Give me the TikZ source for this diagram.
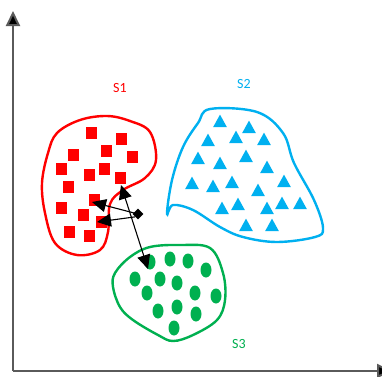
\documentclass[tikz,border=0pt]{standalone}
\usepackage{fontspec}
\setmainfont{Carlito}
\usetikzlibrary{arrows.meta,shapes.geometric}
\definecolor{cRed}{RGB}{255,0,0}
\definecolor{cBlue}{RGB}{0,176,240}
\definecolor{cGreen}{RGB}{0,176,80}
\definecolor{axisgray}{RGB}{90,90,90}
\tikzset{
  blob/.style={line width=2.4pt, smooth cycle, tension=0.6},
  sq/.style={fill=cRed, draw=none, minimum width=11pt, minimum height=12pt, inner sep=0pt},
  tri/.style={fill=cBlue, draw=none, regular polygon, regular polygon sides=3, minimum size=16pt, inner sep=0pt, yscale=1.05},
  dot/.style={fill=cGreen, draw=none, ellipse, minimum width=11pt, minimum height=15pt, inner sep=0pt},
  lbl/.style={font=\fontsize{14}{16}\selectfont},
  axis/.style={draw=axisgray, line width=2pt, -{Triangle[length=15pt,width=14pt,fill=black]}},
  link/.style={line width=1.1pt, -{Triangle[length=14pt,width=13pt]}},
  marker/.style={fill=black, diamond, minimum width=11pt, minimum height=11pt, inner sep=0pt}
}
\begin{document}
\begin{tikzpicture}[x=1pt,y=-1pt]
\useasboundingbox (0,0) rectangle (382,376);
\clip (0,0) rectangle (382,376);
\fill[white] (0,0) rectangle (382,376);

% axes
\coordinate (origin) at (13,371);
\coordinate (ytop) at (13,11);
\coordinate (xend) at (392,371);
\draw[axis] (origin) -- (ytop);
\draw[axis] (origin) -- (xend);

% cluster outlines
\draw[blob, draw=cRed] plot coordinates {
  (57,133) (80,120) (107,116) (130,121) (150,132) (156,160) (145,178)
  (123,190) (110,204) (108,232) (100,250) (77,255) (55,243) (45,213)
  (42,183) (48,153)};
\draw[blob, draw=cBlue] plot coordinates {
  (210,109) (257,112) (283,133) (294,163) (314,200) (323,228) (315,237)
  (277,242) (243,237) (220,227) (193,210) (173,205) (167,214) (172,180)
  (183,147) (198,123)};
\draw[blob, draw=cGreen] plot coordinates {
  (115,273) (130,257) (150,247) (180,245) (210,248) (223,273) (225,300)
  (217,320) (193,335) (173,341) (158,335) (133,320) (120,307) (113,287)};

% labels
\node[lbl, text=cRed] (s1) at (120,88) {S1};
\node[lbl, text=cBlue] (s2) at (244,84) {S2};
\node[lbl, text=cGreen] (s3) at (239,344) {S3};

% S1 members
\foreach \p/\n in {(91,133)/r1,(121,139)/r2,(73,155)/r3,(106,151)/r4,(132,157)/r5,
  (61,169)/r6,(89,175)/r7,(104,169)/r8,(120,178)/r9,(68,187)/r10,(94,200)/r11,
  (61,208)/r12,(83,215)/r13,(101,222)/r14,(69,232)/r15,(89,236)/r16}
  \node[sq] (\n) at \p {};

% S2 members
\foreach \p/\n in {(220,123)/b1,(249,129)/b2,(208,142)/b3,(236,139)/b4,(264,141)/b5,
  (198,160)/b6,(220,165)/b7,(246,158)/b8,(267,169)/b9,(192,185)/b10,(213,188)/b11,
  (232,184)/b12,(258,192)/b13,(284,183)/b14,(222,210)/b15,(238,206)/b16,
  (267,210)/b17,(282,205)/b18,(300,205)/b19,(246,227)/b20,(272,227)/b21}
  \node[tri] (\n) at \p {};

% S3 members
\foreach \p/\n in {(150,262)/g1,(170,259)/g2,(188,261)/g3,(206,270)/g4,(135,279)/g5,
  (160,279)/g6,(177,283)/g7,(147,293)/g8,(195,293)/g9,(216,296)/g10,(158,311)/g11,
  (177,307)/g12,(196,314)/g13,(174,328)/g14}
  \node[dot] (\n) at \p {};

% query point and its distances
\node[marker] (q) at (138,214) {};
\coordinate (t1) at (92,202);
\coordinate (t2) at (97,222);
\coordinate (up) at (121,185);
\coordinate (down) at (148,269);
\draw[link] (q.center) -- (t1);
\draw[link] (q.south west) -- (t2);
\draw[link, {Triangle[length=14pt,width=13pt]}-{Triangle[length=14pt,width=13pt]}] (up) -- (down);
\end{tikzpicture}
\end{document}
